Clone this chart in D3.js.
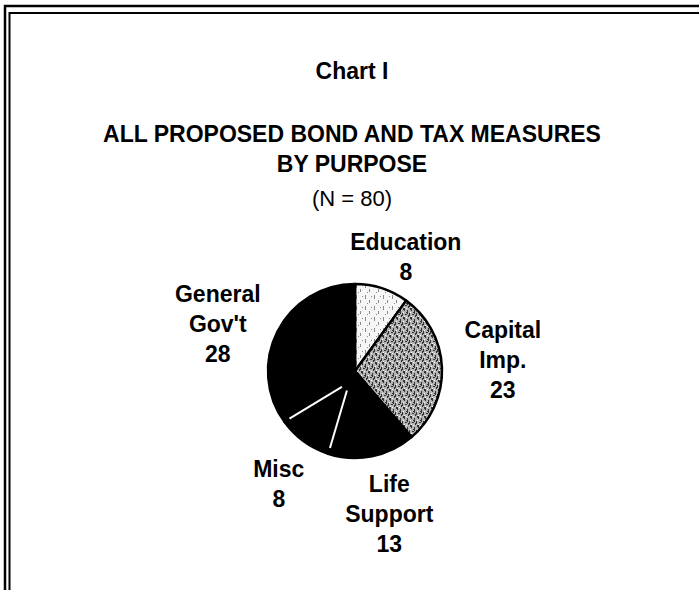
<!DOCTYPE html>
<html lang="en">
<head>
  <meta charset="UTF-8" />
  <title>Chart I - Bond and Tax Measures by Purpose</title>
  <script src="https://d3js.org/d3.v7.min.js"></script>
  <style>
    html, body { margin: 0; padding: 0; background: #fff; }
    svg { display: block; }
    text { font-family: "Liberation Sans", Arial, sans-serif; fill: #000; }
    .title { font-size: 23px; font-weight: bold; }
    .label { font-size: 23px; font-weight: bold; }
  </style>
</head>
<body>

<svg width="699" height="590"></svg>

<script>
  // data
  const purposes = ["Education", "Capital Imp.", "Life Support", "Misc", "General Gov't"];
  const counts = [8, 23, 13, 8, 28];
  const labelLines = [
    ["Education", "8"],
    ["Capital", "Imp.", "23"],
    ["Life", "Support", "13"],
    ["Misc", "8"],
    ["General", "Gov't", "28"]
  ];
  const titleLines = ["ALL PROPOSED BOND AND TAX  MEASURES", "BY PURPOSE"];
  const total = d3.sum(counts);

  const svg = d3.select("svg");
  const cx = 355, cy = 371, radius = 87;

  // scanned frame (top and left double rule)
  const frame = svg.append("g").attr("stroke", "#000").attr("fill", "none");
  frame.append("path").attr("stroke-width", 2.5).attr("d", "M5,590 V6 H699");
  frame.append("path").attr("stroke-width", 2).attr("d", "M9.5,590 V13 H699");

  // textures
  const defs = svg.append("defs");
  const pLight = defs.append("pattern").attr("id", "light")
    .attr("patternUnits", "userSpaceOnUse").attr("width", 9).attr("height", 11);
  pLight.append("rect").attr("width", 9).attr("height", 11).attr("fill", "#f6f6f6");
  [[1, 1, 1, 4], [5, 6, 1, 3], [3, 9, 1, 1], [7, 2, 1, 1]].forEach(r =>
    pLight.append("rect").attr("x", r[0]).attr("y", r[1]).attr("width", r[2]).attr("height", r[3]).attr("fill", "#8a8a8a"));

  const pGray = defs.append("pattern").attr("id", "gray")
    .attr("patternUnits", "userSpaceOnUse").attr("width", 7).attr("height", 9);
  pGray.append("rect").attr("width", 7).attr("height", 9).attr("fill", "#b4b4b4");
  [[0, 0, 1, 3], [3, 2, 1, 4], [5, 5, 1, 3], [1, 6, 2, 1], [6, 0, 1, 2], [2, 4, 1, 1], [4, 7, 1, 2]].forEach(r =>
    pGray.append("rect").attr("x", r[0]).attr("y", r[1]).attr("width", r[2]).attr("height", r[3]).attr("fill", "#333"));
  [[2, 0, 1, 1], [6, 4, 1, 1], [0, 8, 1, 1]].forEach(r =>
    pGray.append("rect").attr("x", r[0]).attr("y", r[1]).attr("width", r[2]).attr("height", r[3]).attr("fill", "#fff"));

  const fills = ["url(#light)", "url(#gray)", "#000", "#000", "#000"];

  // titles
  svg.append("text").attr("class", "title").attr("x", 352).attr("y", 79)
    .attr("text-anchor", "middle").text("Chart I");
  titleLines.forEach((t, i) => {
    svg.append("text").attr("class", "title").attr("x", 352).attr("y", 142 + i * 30)
      .attr("text-anchor", "middle").text(t);
  });
  svg.append("text").attr("x", 352).attr("y", 206).attr("text-anchor", "middle")
    .style("font-size", "22px").text(`(N = ${total})`);

  // pie
  const pie = d3.pie().sort(null).value(d => d)(counts);
  const arc = d3.arc().innerRadius(0).outerRadius(radius);
  const g = svg.append("g").attr("transform", `translate(${cx},${cy})`);

  g.selectAll("path.slice")
    .data(pie)
    .join("path")
    .attr("class", "slice")
    .attr("d", arc)
    .attr("fill", (d, i) => fills[i])
    .attr("stroke", "#000")
    .attr("stroke-width", 2.5)
    .attr("stroke-linejoin", "round");

  // white separators between the black slices
  const sepAngles = [pie[2].endAngle, pie[3].endAngle];
  g.selectAll("line.sep")
    .data(sepAngles)
    .join("line")
    .attr("class", "sep")
    .attr("x1", a => Math.sin(a) * 10 - 5)
    .attr("y1", a => -Math.cos(a) * 10 + 10)
    .attr("x2", a => Math.sin(a) * (radius - 6))
    .attr("y2", a => -Math.cos(a) * (radius - 6))
    .attr("stroke", "#fff")
    .attr("stroke-width", 2);

  // labels
  const labelArc = d3.arc().innerRadius(145).outerRadius(145);
  const nudge = [[6, 17], [3, -27], [6, -21], [9, -11], [-8, -3]];
  pie.forEach((d, i) => {
    const [lx, ly] = labelArc.centroid(d);
    const t = g.append("text").attr("class", "label").attr("text-anchor", "middle");
    labelLines[i].forEach((line, j) => {
      t.append("tspan")
        .attr("x", lx + nudge[i][0])
        .attr("y", ly + nudge[i][1] + j * 30)
        .text(line);
    });
  });
</script>

</body>
</html>
